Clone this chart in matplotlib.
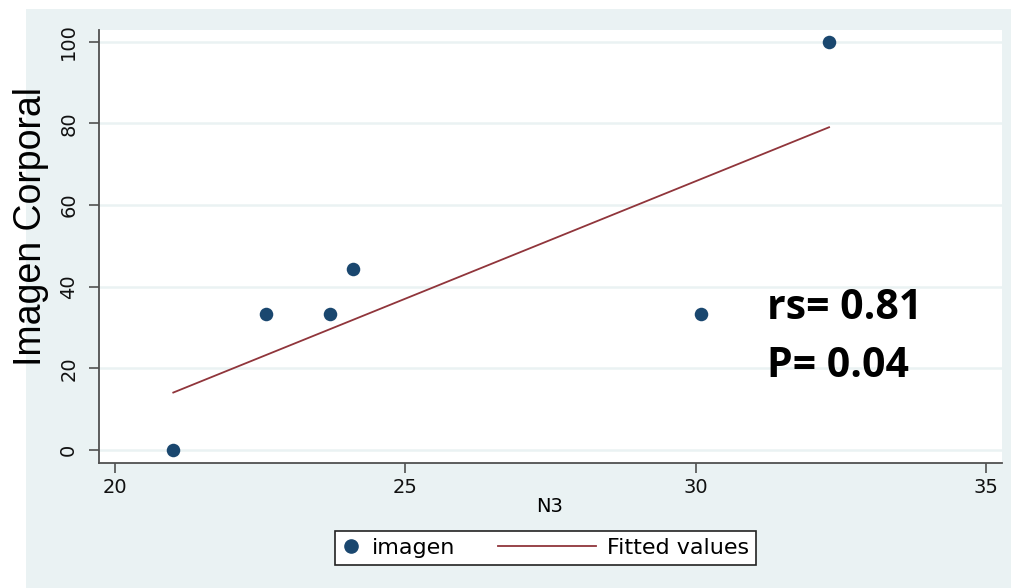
import numpy as np
import matplotlib
matplotlib.use('Agg')
import matplotlib.pyplot as plt
from matplotlib.patches import Rectangle
from matplotlib.lines import Line2D
from matplotlib.legend_handler import HandlerLine2D

# datos
n3 = [21.0, 22.6, 23.7, 24.1, 30.1, 32.3]
imagen = [0.0, 33.3, 33.3, 44.4, 33.3, 100.0]
x_ticks = [20, 25, 30, 35]
y_ticks = [0, 20, 40, 60, 80, 100]

# colores estilo Stata s2color
bg = '#eaf2f3'
navy = '#1a476f'
maroon = '#90353b'

W, H = 1011, 588
fig = plt.figure(figsize=(W / 100, H / 100), dpi=100)
fig.patch.set_facecolor('white')

# panel de fondo
fig.patches.append(Rectangle((26 / W, 0), 1 - 26 / W, 1 - 9 / H,
                             transform=fig.transFigure, facecolor=bg,
                             edgecolor='none', zorder=-10))

ax = fig.add_axes([99 / W, (H - 463) / H, 903 / W, 433 / H])
ax.set_facecolor('white')

# recta ajustada (mínimos cuadrados)
slope, inter = np.polyfit(n3, imagen, 1)
xf = np.array([min(n3), max(n3)])
ax.plot(xf, slope * xf + inter, color=maroon, lw=1.3, zorder=3)
ax.scatter(n3, imagen, s=95, color=navy, zorder=4, linewidths=0)

ax.set_xlim(19.72, 35.28)
ax.set_ylim(-3.2, 102.9)
ax.set_xticks(x_ticks)
ax.set_yticks(y_ticks)
ax.set_yticklabels([str(v) for v in y_ticks], rotation=90, va='center')
ax.grid(axis='y', color=bg, lw=1.8)
ax.set_axisbelow(True)

for s in ['top', 'right']:
    ax.spines[s].set_visible(False)
for s in ['left', 'bottom']:
    ax.spines[s].set_color('#505050')
    ax.spines[s].set_linewidth(1.3)
ax.tick_params(axis='both', length=7, width=1.2, color='#505050',
               labelsize=14, labelcolor='#111111')
ax.tick_params(axis='y', pad=8)
ax.tick_params(axis='x', pad=4)

# textos
fig.text(550 / W, 1 - 507 / H, 'N3', ha='center', va='center', fontsize=14)
fig.text(31 / W, 1 - 226 / H, 'Imagen Corporal', rotation=90, ha='center',
         va='center', fontsize=27, family='Liberation Sans')
ax.text(0.74, 0.3326, 'rs= 0.81', transform=ax.transAxes, va='baseline',
        fontsize=29.5, fontweight='bold', family='Open Sans')
ax.text(0.74, 0.1986, 'P= 0.04', transform=ax.transAxes, va='baseline',
        fontsize=29.5, fontweight='bold', family='Open Sans')


# la línea de la leyenda es más larga que el marcador
class LineaLarga(HandlerLine2D):
    def create_artists(self, legend, orig, xdescent, ydescent, width, height,
                       fontsize, trans):
        ext = 4.4 * fontsize
        y = height / 2 - ydescent
        x1 = width - xdescent
        ln = Line2D([x1 - ext, x1], [y, y], color=orig.get_color(),
                    lw=orig.get_linewidth())
        ln.set_transform(trans)
        return [ln]


h_pt = Line2D([], [], ls='none', marker='o', ms=9.5, color=navy, mec=navy)
h_ln = Line2D([], [], color=maroon, lw=1.3)
leg = fig.legend([h_pt, h_ln], ['imagen', 'Fitted values'], loc='center left',
                 bbox_to_anchor=(335 / W, 1 - 548 / H), ncol=2,
                 fontsize=16, frameon=True, fancybox=False, framealpha=1,
                 handlelength=0.84, columnspacing=5.47, borderpad=0.3,
                 handletextpad=0.53, borderaxespad=0,
                 handler_map={h_ln: LineaLarga()})
leg.get_frame().set_edgecolor('#222222')
leg.get_frame().set_linewidth(1.2)

fig.savefig('out.png', dpi=100)
